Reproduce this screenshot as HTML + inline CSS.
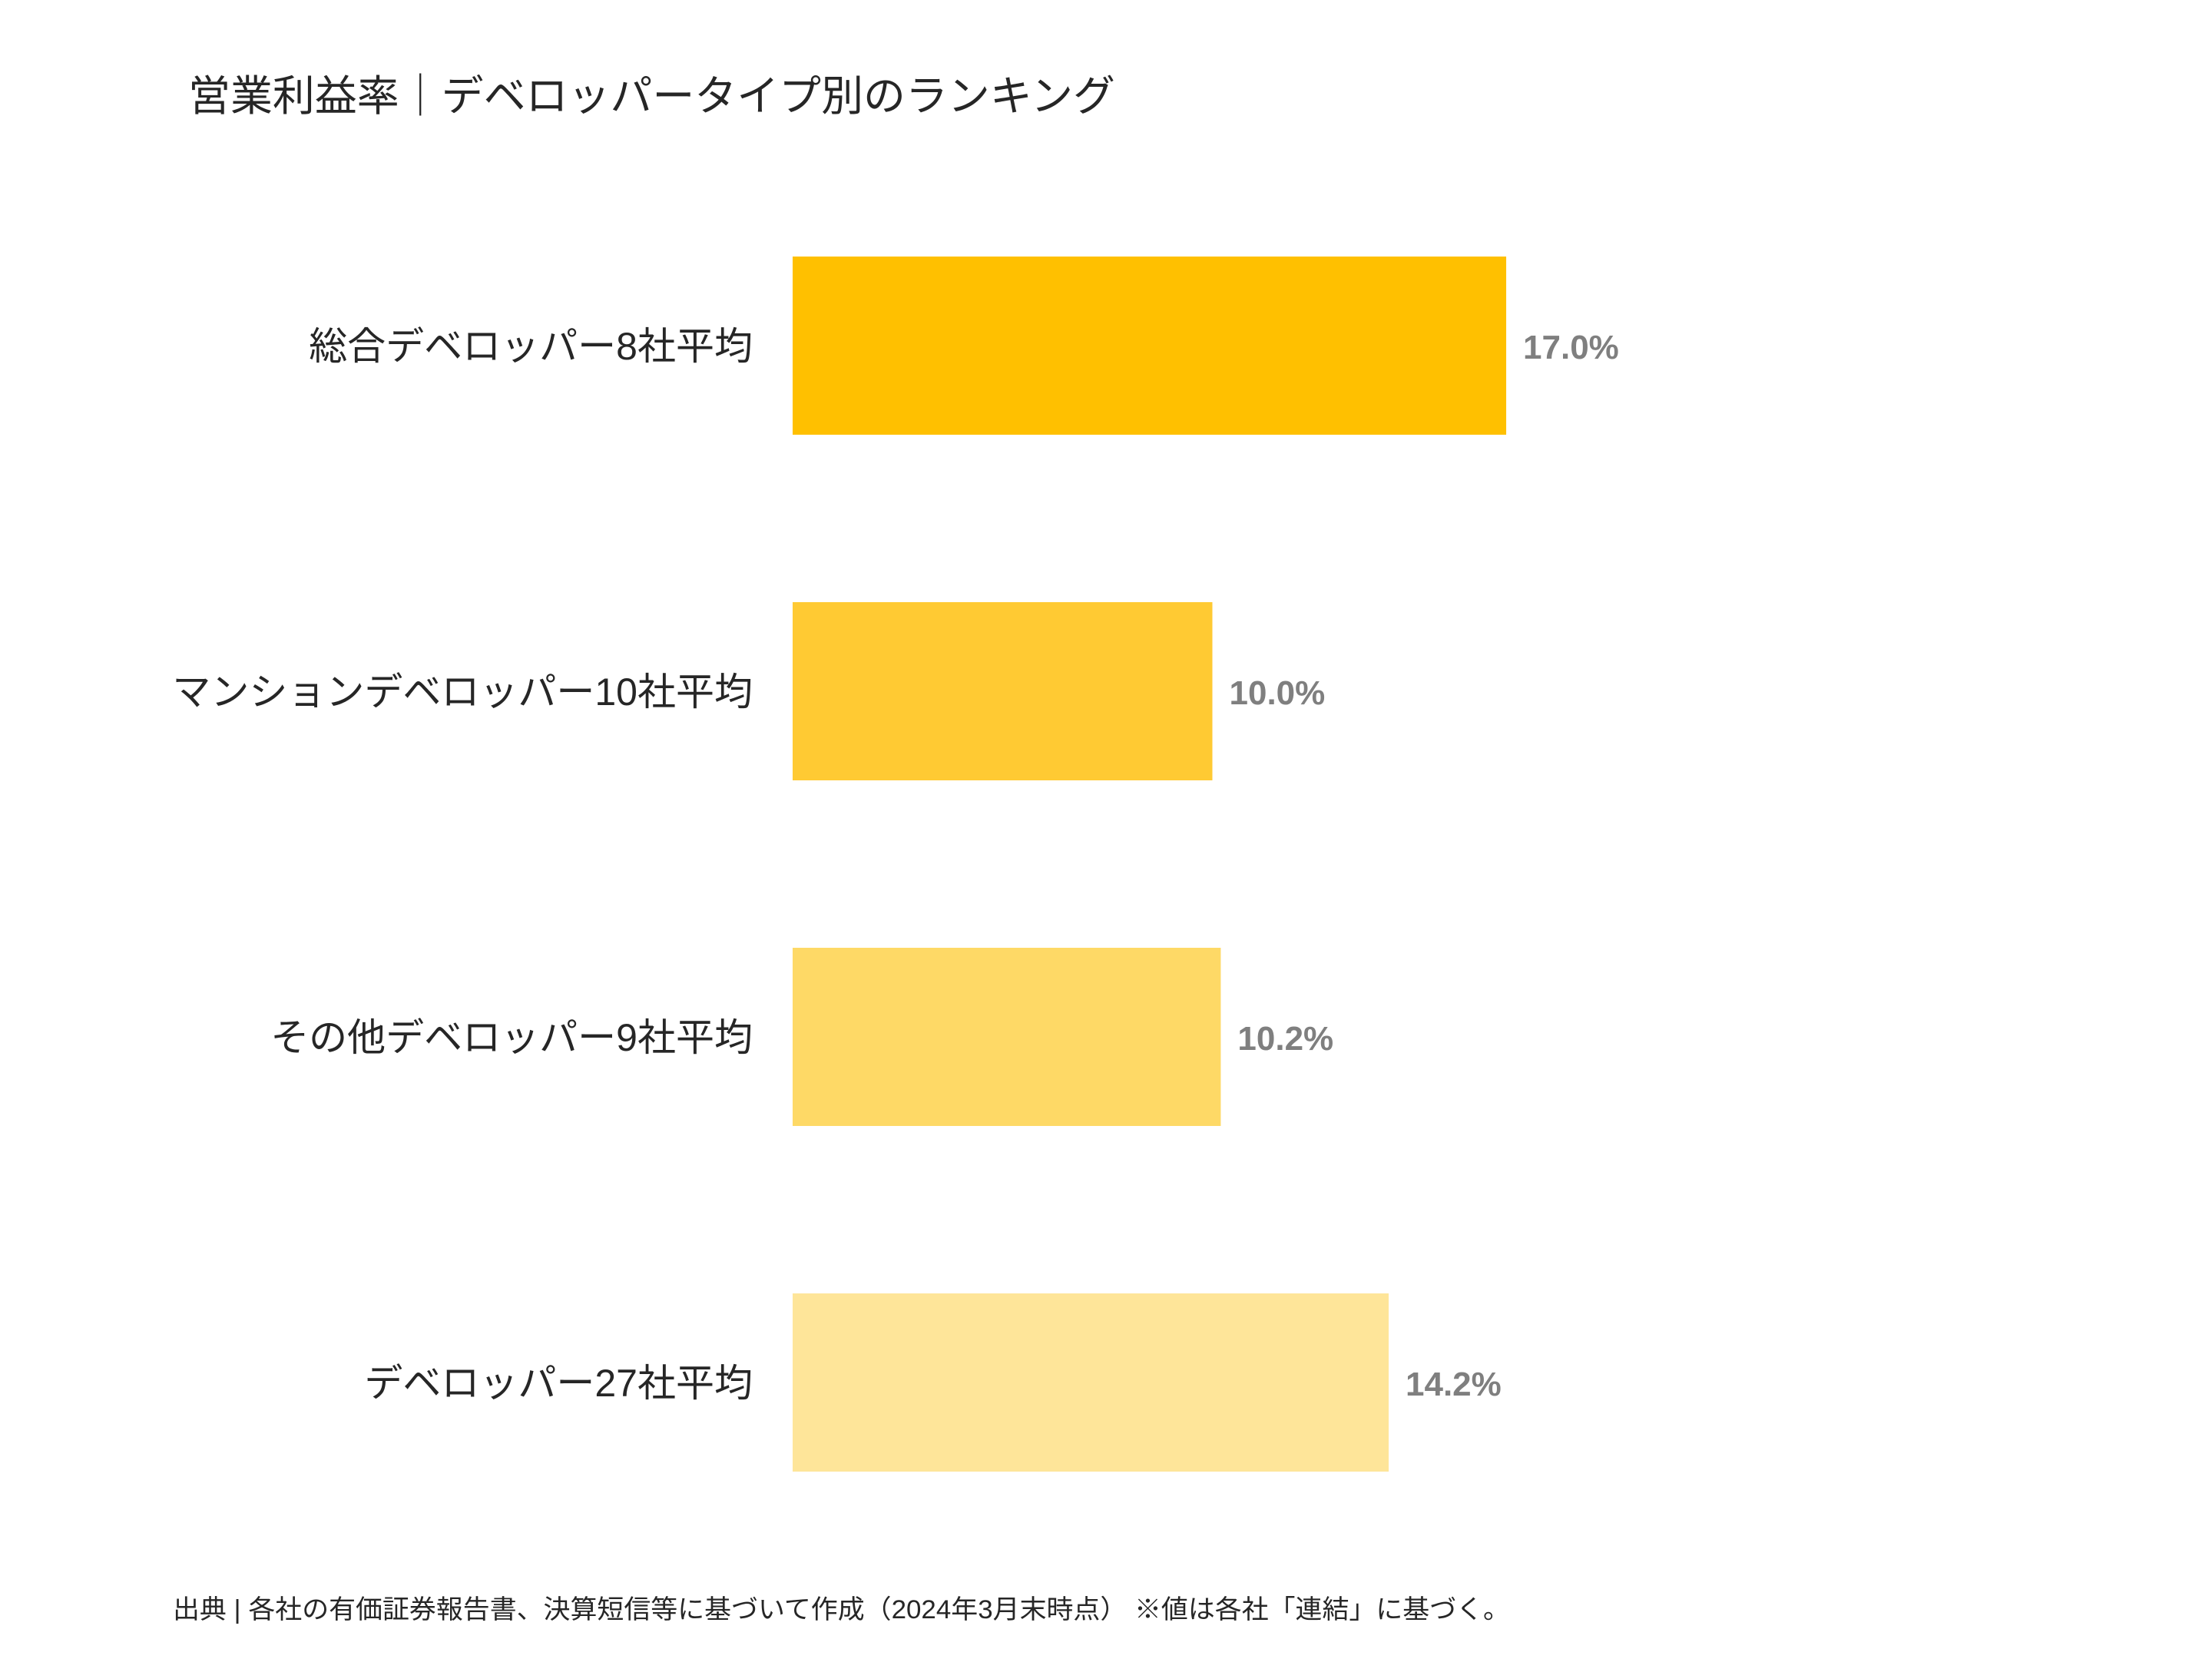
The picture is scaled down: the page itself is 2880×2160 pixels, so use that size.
<!DOCTYPE html>
<html><head><meta charset="utf-8"><style>
html,body{margin:0;padding:0;background:#fff;}
svg{display:block;}
text{font-family:"Liberation Sans","Noto Sans CJK JP",sans-serif;}
</style></head><body>
<svg id="chart" width="2880" height="2160" viewBox="0 0 2880 2160" xmlns="http://www.w3.org/2000/svg">
<rect width="2880" height="2160" fill="#fff"/>
<text x="245" y="144" font-size="55" fill="#262626" textLength="1207" lengthAdjust="spacingAndGlyphs">営業利益率｜デベロッパータイプ別のランキング</text>
<g id="bars"></g>
<text x="225" y="2107" font-size="34" fill="#262626" textLength="1741" lengthAdjust="spacingAndGlyphs">出典 | 各社の有価証券報告書、決算短信等に基づいて作成（2024年3月末時点） ※値は各社「連結」に基づく。</text>
</svg>
<script>
const categories = ["総合デベロッパー8社平均","マンションデベロッパー10社平均","その他デベロッパー9社平均","デベロッパー27社平均"];
const values = [17.0, 10.0, 10.2, 14.2];
const valueLabels = ["17.0%","10.0%","10.2%","14.2%"];
const colors = ["#FFC000","#FFCA33","#FED966","#FEE599"];

const x0 = 1032, pxPerUnit = 54.65;
function xScale(v){ return x0 + v * pxPerUnit; }
const bandTop = 334, bandStep = 450, barH = 232;
function yScale(i){ return bandTop + i * bandStep; }

const ns = "http://www.w3.org/2000/svg";
const g = document.getElementById('bars');
categories.forEach((c,i)=>{
  const y = yScale(i);
  const r = document.createElementNS(ns,'rect');
  r.setAttribute('x', x0);
  r.setAttribute('y', y);
  r.setAttribute('width', xScale(values[i]) - x0);
  r.setAttribute('height', barH);
  r.setAttribute('fill', colors[i]);
  
  
  g.appendChild(r);

  const t = document.createElementNS(ns,'text');
  t.setAttribute('x', 980);
  t.setAttribute('y', y + barH/2 + 18);
  t.setAttribute('text-anchor','end');
  t.setAttribute('font-size','50');
  t.setAttribute('fill','#262626');
  t.textContent = c;
  
  
  g.appendChild(t);

  const v = document.createElementNS(ns,'text');
  v.setAttribute('x', xScale(values[i]) + 22);
  v.setAttribute('y', y + barH/2 + 17);
  v.setAttribute('font-size','44');
  v.setAttribute('font-weight','bold');
  v.setAttribute('fill','#7F7F7F');
  v.textContent = valueLabels[i];
  
  
  g.appendChild(v);
});
</script>
</body></html>
